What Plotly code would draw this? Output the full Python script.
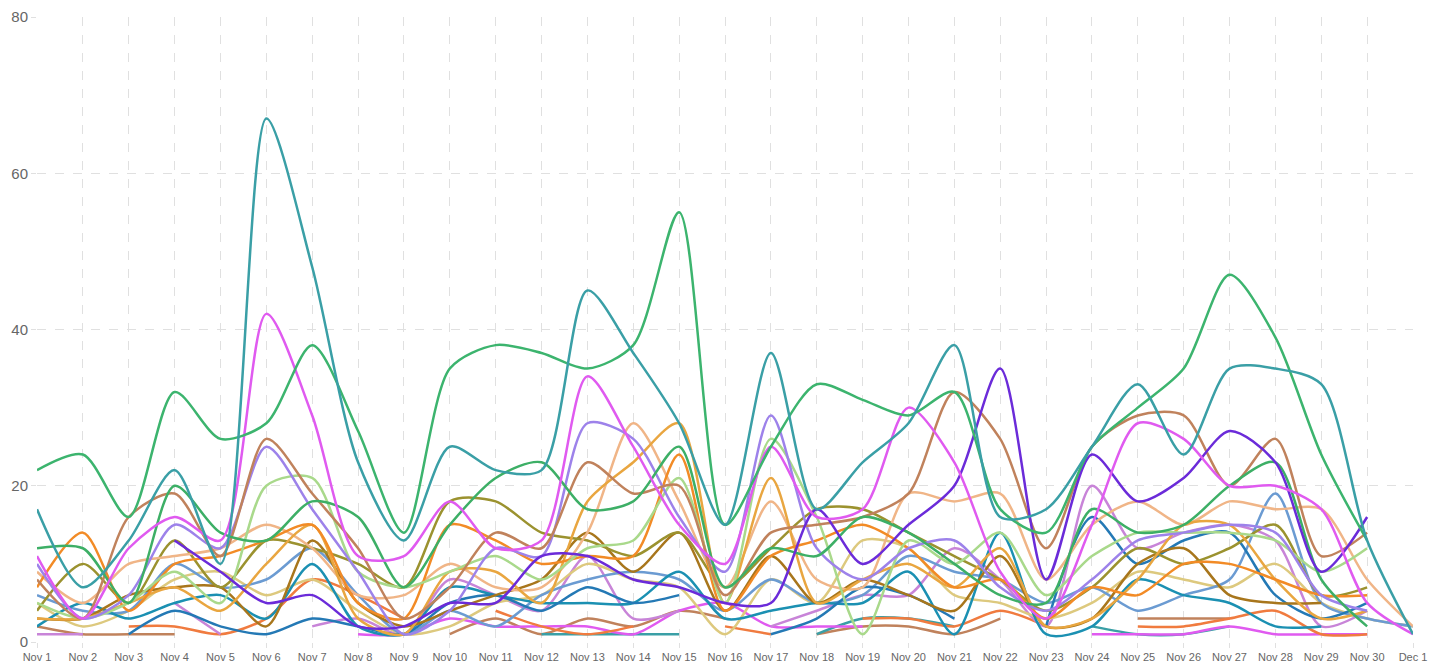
import plotly.graph_objects as go

N = None
days = ["Nov %d" % d for d in range(1, 31)] + ["Dec 1"]

teal = [17,7,13,22,10,67,48,23,13,25,22,22,45,37,28,15,37,17,23,28,38,16,17,25,33,24,35,35,33,13,1]
green = [22,24,16,32,26,28,38,27,14,35,38,37,35,38,55,15,25,33,31,29,32,17,14,25,30,35,47,39,24,13,N]
green2 = [12,12,5,20,14,13,18,16,7,15,21,23,17,18,25,7,12,11,16,14,10,6,5,17,14,15,20,23,8,2,N]
magenta = [11,3,12,16,13,42,29,11,11,18,12,13,34,25,15,10,25,16,17,30,23,9,3,15,28,26,20,20,17,5,1]
purple = [N,N,N,13,9,5,6,2,2,5,5,11,11,8,7,5,5,17,10,15,20,35,8,24,18,21,27,23,9,16,N]
brown = [8,3,16,19,11,26,19,12,3,7,14,12,23,19,20,6,14,15,16,19,32,26,12,25,29,29,20,26,11,14,N]
lavender = [10,3,6,15,12,25,17,9,1,4,12,11,28,26,16,9,29,12,8,12,13,7,4,8,13,14,15,14,6,4,N]
lightgreen = [5,3,5,9,5,20,21,9,7,9,11,8,12,13,21,5,26,16,1,13,10,14,6,11,14,14,14,13,9,12,N]
orange = [7,14,4,10,11,13,15,5,3,15,13,10,11,11,24,4,11,13,15,12,7,8,3,7,6,10,10,8,6,6,N]
golden = [3,3,5,7,4,10,15,3,1,9,9,5,18,23,28,5,21,5,8,10,7,12,2,3,8,15,15,8,3,4,N]
peach = [9,5,10,11,12,15,12,6,6,10,7,7,14,28,18,7,18,8,7,19,18,19,8,15,18,15,18,17,17,8,2]
olive = [4,10,5,13,7,13,12,10,7,18,18,14,13,11,14,7,12,17,17,14,11,8,4,7,12,10,12,15,6,7,N]
steelblue = [6,4,4,10,7,8,12,6,1,4,2,6,8,9,8,4,8,5,6,11,9,8,5,7,4,6,8,19,5,3,2]
cyan = [2,5,3,5,6,3,10,2,1,7,6,5,5,5,9,3,4,5,5,9,1,14,1,2,8,6,5,2,2,N,N]
darkblue = [N,N,1,4,2,1,3,2,1,5,6,4,7,5,6,N,1,3,7,6,3,N,2,16,10,13,14,6,3,5,N]
goldenrod = [3,3,6,7,7,2,13,5,2,4,6,8,14,9,14,4,11,5,8,6,4,11,2,3,10,12,6,5,5,N,N]
khaki = [5,2,4,8,9,6,8,4,1,2,5,6,10,8,7,1,8,5,13,12,6,5,3,5,9,8,7,10,5,3,2]
orangered = [N,N,2,2,1,3,8,6,3,N,4,2,1,2,N,2,1,N,3,3,2,4,2,N,2,2,3,4,1,1,N]
orchid = [1,1,N,5,1,N,2,3,1,8,6,4,11,3,4,N,2,4,6,6,12,8,2,20,12,14,15,13,2,4,N]
magenta_low = [N,N,N,N,N,N,N,1,1,3,2,2,2,1,4,5,2,2,2,N,N,N,N,1,1,1,2,1,1,1,N]
brown_low = [2,1,1,1,N,N,N,N,N,1,3,1,3,2,4,3,N,1,2,2,1,3,N,N,3,3,3,N,N,N,N]
teal_low = [N,N,N,N,N,N,N,N,N,N,N,1,1,1,1,N,N,1,3,3,2,N,N,2,1,1,2,N,N,N,N]

series = [
    (brown_low, "#c0825c"),
    (teal_low, "#3a9fa6"),
    (magenta_low, "#e05af0"),
    (orangered, "#f07b3f"),
    (orchid, "#c884d8"),
    (khaki, "#ddc97e"),
    (steelblue, "#6b9bd2"),
    (cyan, "#1b90b2"),
    (darkblue, "#2479b5"),
    (goldenrod, "#a8761c"),
    (olive, "#9b922f"),
    (peach, "#f0b587"),
    (golden, "#e9a640"),
    (orange, "#f28b26"),
    (lightgreen, "#a9d98b"),
    (lavender, "#9d82ea"),
    (brown, "#c0825c"),
    (green2, "#3daf66"),
    (purple, "#6b2bd9"),
    (magenta, "#e05af0"),
    (green, "#3cb46e"),
    (teal, "#3a9fa6"),
]

fig = go.Figure()
for vals, col in series:
    fig.add_trace(go.Scatter(
        x=days, y=vals, mode="lines",
        line=dict(color=col, width=2.5, shape="spline", smoothing=0.8),
        connectgaps=False, hoverinfo="skip", showlegend=False,
    ))

fig.update_layout(
    width=1429, height=662,
    margin=dict(l=37, r=16, t=17, b=20),
    paper_bgcolor="white", plot_bgcolor="white",
    font=dict(family="Liberation Sans, Arial, sans-serif", color="#666666"),
)
fig.update_xaxes(
    type="category", range=[0, 30], showline=False, zeroline=False, automargin=False,
    showgrid=True, gridcolor="#e0e0e0", griddash="dash", gridwidth=1,
    ticks="outside", ticklen=5, tickcolor="#e0e0e0",
    tickfont=dict(size=11, color="#666666"),
)
fig.update_yaxes(
    range=[0, 80], tickvals=[0, 20, 40, 60, 80], showline=False, zeroline=False, automargin=False,
    showgrid=True, gridcolor="#e0e0e0", griddash="dash", gridwidth=1,
    ticks="outside", ticklen=5, tickcolor="#e0e0e0",
    tickfont=dict(size=15, color="#666666"),
)
fig.write_html("out.html", config={"displayModeBar": False},
               post_script="document.body.style.margin='0px';")
